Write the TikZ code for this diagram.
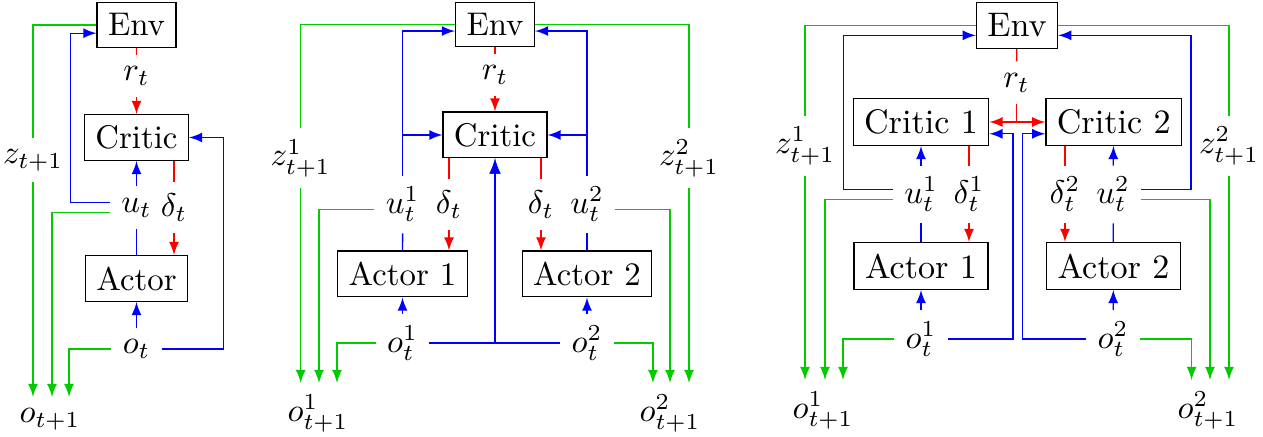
\documentclass[tikz,border=0pt]{standalone}
\usepackage{amsmath}
\usepackage{tikz}
\usepackage{xcolor}

\begin{document}
\begin{tikzpicture}[
    x=0.305pt, y=-0.305pt,
    box/.style={draw},
    arrow/.style={-latex},
    rew/.style={red},
    act/.style={blue},
    obs/.style={green!80!black}
  ]
  \useasboundingbox (0,0) rectangle (1263,437);

  % one actor, one critic
  \node[box] (envA) at (136.5,25) {Env};
  \node (rA) at (136.5,76) {$r_t$};
  \node[box] (criticA) at (136.5,137.5) {Critic};
  \node (uA) at (136.5,207.5) {$u_t$};
  \node (dA) at (174,207.5) {$\delta_t$};
  \node[box] (actorA) at (136.5,278.5) {Actor};
  \node (oA) at (136.5,349) {$o_t$};
  \node (zA) at (33,160) {$z_{t+1}$};
  \node[anchor=north] (onA) at (50,397) {$o_{t+1}$};

  \draw[rew] (envA) -- (rA);
  \draw[rew, arrow] (rA) -- (criticA);
  \draw[rew] (dA.north |- criticA.south) -- (dA);
  \draw[rew, arrow] (dA) -- (dA |- actorA.north);
  \draw[act] (actorA) -- (uA);
  \draw[act, arrow] (uA) -- (criticA);
  \draw[act, arrow] ([yshift=1.5pt]uA.west) -| ([xshift=-4pt]criticA.west) |- ([yshift=-2.5pt]envA.west);
  \draw[act, arrow] (oA) -- (actorA);
  \draw[act, arrow] (oA) -| ([xshift=10.4pt]criticA.east) -- (criticA.east);
  \draw[obs] (envA) -| (zA);
  \draw[obs, arrow] (zA) -- (zA |- onA.north);
  \draw[obs, arrow] ([yshift=-1.5pt]uA.west) -| ([xshift=0.6pt]onA.north);
  \draw[obs, arrow] (oA) -| ([xshift=5.8pt]onA.north);

  % two actors, shared critic
  \node[box] (envB) at (495,24.5) {Env};
  \node (rB) at (495,75) {$r_t$};
  \node[box] (criticB) at (495,135) {Critic};
  \node (uB1) at (402.7,204.5) {$u^1_t$};
  \node (dB1) at (449,204.5) {$\delta_t$};
  \node (dB2) at (541,204.5) {$\delta_t$};
  \node (uB2) at (587,204.5) {$u^2_t$};
  \node[box] (actorB1) at (402.5,274) {Actor 1};
  \node[box] (actorB2) at (587,274) {Actor 2};
  \node (oB1) at (402.5,343) {$o^1_t$};
  \node (oB2) at (587,343) {$o^2_t$};
  \node (zB1) at (300.7,158) {$z^1_{t+1}$};
  \node (zB2) at (689,158) {$z^2_{t+1}$};
  \node[anchor=north] (onB1) at (318,383) {$o^1_{t+1}$};
  \node[anchor=north] (onB2) at (670,383) {$o^2_{t+1}$};

  \draw[rew] (envB) -- (rB);
  \draw[rew, arrow] (rB) -- (criticB);
  \draw[rew] (dB1.north |- criticB.south) -- (dB1);
  \draw[rew, arrow] (dB1) -- (dB1 |- actorB1.north);
  \draw[rew] (dB2.north |- criticB.south) -- (dB2);
  \draw[rew, arrow] (dB2) -- (dB2 |- actorB2.north);
  \draw[act] (actorB1) -- (uB1);
  \draw[act, arrow] (uB1) |- ([yshift=-2pt]envB.west);
  \draw[act, arrow] (uB1 |- criticB.west) -- (criticB.west);
  \draw[act] (actorB2) -- (uB2);
  \draw[act, arrow] (uB2) |- ([yshift=-2pt]envB.east);
  \draw[act, arrow] (uB2 |- criticB.east) -- (criticB.east);
  \draw[act, arrow] (oB1) -- (actorB1);
  \draw[act, arrow] (oB2) -- (actorB2);
  \draw[act, semithick, arrow] (oB1) -| (criticB);
  \draw[act, semithick, arrow] (oB2) -| (criticB);
  \draw[obs] (envB) -| (zB1);
  \draw[obs, arrow] (zB1) -- (zB1 |- onB1.north);
  \draw[obs, arrow] ([yshift=-1.5pt]uB1.west) -| ([xshift=0.3pt]onB1.north);
  \draw[obs, arrow] (oB1) -| ([xshift=5.8pt]onB1.north);
  \draw[obs] (envB) -| (zB2);
  \draw[obs, arrow] (zB2) -- (zB2 |- onB2.north);
  \draw[obs, arrow] ([yshift=-1.5pt]uB2.east) -| (onB2.north);
  \draw[obs, arrow] (oB2) -| ([xshift=-5.2pt]onB2.north);

  % two actors, two critics
  \begin{scope}[every node/.append style={font=\fontsize{10.4}{12.5}\selectfont}]
  \node[box] (envC) at (1017,25.5) {Env};
  \node (rC) at (1016.5,82.5) {$r_t$};
  \node[box] (criticC1) at (921,122) {Critic 1};
  \node[box] (criticC2) at (1113.7,122) {Critic 2};
  \node (uC1) at (921,194.5) {$u^1_t$};
  \node (dC1) at (969,194.5) {$\delta^1_t$};
  \node (dC2) at (1065,194.5) {$\delta^2_t$};
  \node (uC2) at (1113,194.5) {$u^2_t$};
  \node[box] (actorC1) at (921,266) {Actor 1};
  \node[box] (actorC2) at (1113.5,266) {Actor 2};
  \node (oC1) at (921,339) {$o^1_t$};
  \node (oC2) at (1113,339) {$o^2_t$};
  \node (zC1) at (805,146) {$z^1_{t+1}$};
  \node (zC2) at (1229,146) {$z^2_{t+1}$};
  \node[anchor=north] (onC1) at (823,380) {$o^1_{t+1}$};
  \node[anchor=north] (onC2) at (1208,380) {$o^2_{t+1}$};
  \end{scope}

  \draw[rew] (envC) -- (rC);
  \draw[rew, arrow] (rC) |- (criticC1);
  \draw[rew, arrow] (rC) |- (criticC2);
  \draw[rew] (dC1.north |- criticC1.south) -- (dC1);
  \draw[rew, arrow] (dC1) -- (dC1 |- actorC1.north);
  \draw[rew] (dC2.north |- criticC2.south) -- (dC2);
  \draw[rew, arrow] (dC2) -- (dC2 |- actorC2.north);
  \draw[act] (actorC1) -- (uC1);
  \draw[act, arrow] (uC1) -- (criticC1);
  \draw[act] (actorC2) -- (uC2);
  \draw[act, arrow] (uC2) -- (criticC2);
  \draw[act, arrow] ([yshift=1.5pt]uC1.west) -| ([xshift=-2.7pt]criticC1.west) |- ([yshift=-3pt]envC.west);
  \draw[act, arrow] ([yshift=1.5pt]uC2.east) -| ([xshift=2.7pt]criticC2.east) |- ([yshift=-3pt]envC.east);
  \draw[act, arrow] (oC1) -- (actorC1);
  \draw[act, arrow] (oC2) -- (actorC2);
  \draw[act, arrow] (oC1) -| ([xshift=7.2pt,yshift=-3.6pt]criticC1.east) -- ([yshift=-3.6pt]criticC1.east);
  \draw[act, arrow] (oC2) -| ([xshift=-7pt,yshift=-3.6pt]criticC2.west) -- ([yshift=-3.6pt]criticC2.west);
  \draw[obs] (envC) -| (zC1);
  \draw[obs, arrow] (zC1) -- (zC1 |- onC1.north);
  \draw[obs, arrow] ([yshift=-1.5pt]uC1.west) -| ([xshift=0.6pt]onC1.north);
  \draw[obs, arrow] (oC1) -| ([xshift=6.1pt]onC1.north);
  \draw[obs] (envC) -| (zC2);
  \draw[obs, arrow] (zC2) -- (zC2 |- onC2.north);
  \draw[obs, arrow] ([yshift=-1.5pt]uC2.east) -| ([xshift=0.6pt]onC2.north);
  \draw[obs, arrow] (oC2) -| ([xshift=-5pt]onC2.north);
\end{tikzpicture}
\end{document}
